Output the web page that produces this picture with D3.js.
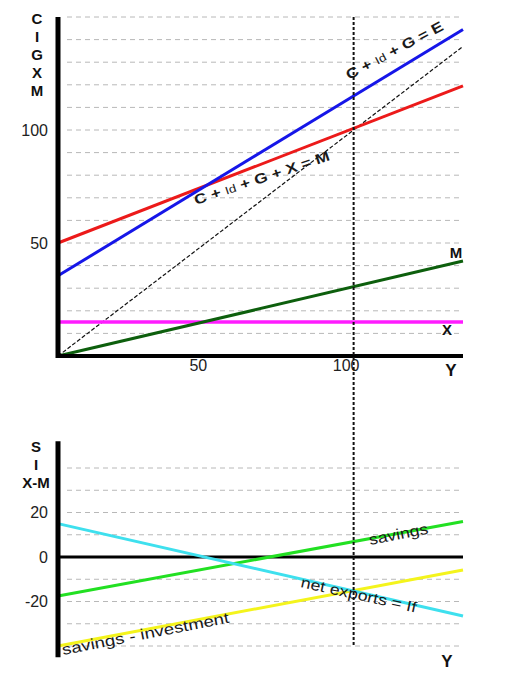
<!DOCTYPE html>
<html>
<head>
<meta charset="utf-8">
<script src="https://cdn.jsdelivr.net/npm/d3@7"></script>
<style>
  html, body { margin: 0; padding: 0; background: #fff; }
  svg { display: block; font-family: "Liberation Sans", Arial, sans-serif; }
</style>
</head>
<body>
<svg id="chart" width="527" height="673"></svg>
<script>
// national income (Y) at the two ends of every straight line
const incomeY = [0, 137];

// top panel: C, I, G, X, M
const expenditureE = [35.5, 144.5];   // C + Id + G = E
const aggDemand = [50, 119.5];        // C + Id + G + X - M
const importsM = [0, 42];
const exportsX = [15, 15];
const fortyFive = [0, 137];

// bottom panel: S, I, X-M
const savings = [-17.5, 16];
const netExports = [15, -26.5];
const savingsMinusInv = [-40, -5.8];

const topTicks = [50, 100];
const bottomTicks = [-20, 0, 20];
const xTicks = [50, 100];
const topGrid = d3.range(10, 151, 10);
const bottomGrid = [-40, -30, -20, -10, 10, 20, 30, 40];
const equilibriumY = 100;

const svg = d3.select("#chart");

const x = d3.scaleLinear().domain([0, 137]).range([58, 463]);
const yTop = d3.scaleLinear().domain([0, 150]).range([356, 17]);
const yBot = d3.scaleLinear().domain([-40, 40]).range([646, 468]);

const GRID = "#b8b8b8";
const FONT = "Liberation Sans, Arial, sans-serif";

function grid(scale, values) {
  svg.append("g").selectAll("line")
    .data(values)
    .join("line")
    .attr("x1", x(0) + 9).attr("x2", x(137) - 2)
    .attr("y1", d => scale(d)).attr("y2", d => scale(d))
    .attr("stroke", GRID).attr("stroke-width", 1)
    .attr("stroke-dasharray", "5,4");
}

function series(scale, values, color, width, dash) {
  const pts = incomeY.map((v, i) => [v, values[i]]);
  const line = d3.line().x(d => x(d[0])).y(d => scale(d[1]));
  const p = svg.append("path")
    .datum(pts)
    .attr("d", line)
    .attr("fill", "none")
    .attr("stroke", color)
    .attr("stroke-width", width);
  if (dash) p.attr("stroke-dasharray", dash);
}

function stackedTitle(letters, cx, y0, step) {
  svg.append("g").selectAll("text")
    .data(letters)
    .join("text")
    .attr("x", cx).attr("y", (d, i) => y0 + i * step)
    .attr("text-anchor", "middle")
    .attr("font-size", 15).attr("font-weight", "bold")
    .attr("fill", "#111")
    .text(d => d);
}

function slantLabel(px, py, angle, len, parts, size, weight) {
  const t = svg.append("text")
    .attr("transform", `translate(${px},${py}) rotate(${angle})`)
    .attr("font-size", size).attr("font-weight", weight)
    .attr("fill", "#1a1a1a")
    .attr("textLength", len)
    .attr("lengthAdjust", "spacingAndGlyphs");
  parts.forEach(p => {
    const s = t.append("tspan").text(p.t);
    if (p.small) s.attr("font-size", size - 3).attr("font-weight", "normal");
  });
}

function styleTicks(g, dx) {
  g.select(".domain").remove();
  g.selectAll("text").attr("font-size", 16).attr("font-family", FONT)
    .attr("fill", "#222").attr("dx", dx || 0);
}

// ---------- top panel ----------
grid(yTop, topGrid);

series(yTop, fortyFive, "#111", 1.2, "4,2");
series(yTop, exportsX, "#ff1cff", 3.5);
series(yTop, importsM, "#0d5f0d", 3);
series(yTop, aggDemand, "#ec1a1a", 3);
series(yTop, expenditureE, "#1616e8", 3);

// axes
svg.append("line")
  .attr("x1", x(0)).attr("x2", x(0))
  .attr("y1", yTop(150)).attr("y2", yTop(0) + 2)
  .attr("stroke", "#000").attr("stroke-width", 5);
svg.append("line")
  .attr("x1", x(0) - 2).attr("x2", x(137))
  .attr("y1", yTop(0)).attr("y2", yTop(0))
  .attr("stroke", "#000").attr("stroke-width", 4);

svg.append("g")
  .attr("transform", `translate(${x(0)},0)`)
  .call(d3.axisLeft(yTop).tickValues(topTicks).tickFormat(d => String(d)).tickSize(0).tickPadding(10))
  .call(g => styleTicks(g));

svg.append("g")
  .attr("transform", `translate(0,${yTop(0)})`)
  .call(d3.axisBottom(x).tickValues(xTicks).tickFormat(d => String(d)).tickSize(0).tickPadding(4))
  .call(g => styleTicks(g, -8));

stackedTitle(["C", "I", "G", "X", "M"], 37, 24, 18);

svg.append("text").attr("x", 456).attr("y", 258).attr("text-anchor", "middle")
  .attr("font-size", 15).attr("font-weight", "bold").attr("fill", "#111").text("M");
svg.append("text").attr("x", 447).attr("y", 335).attr("text-anchor", "middle")
  .attr("font-size", 15).attr("font-weight", "bold").attr("fill", "#111").text("X");
svg.append("text").attr("x", 451).attr("y", 376).attr("text-anchor", "middle")
  .attr("font-size", 17).attr("font-weight", "bold").attr("fill", "#111").text("Y");

slantLabel(349, 80, -28, 108,
  [{t: "C + "}, {t: "Id", small: true}, {t: " + G = E"}], 14, "bold");
slantLabel(196, 205, -18.5, 142,
  [{t: "C + "}, {t: "Id", small: true}, {t: " + G + X = M"}], 14, "bold");

// ---------- bottom panel ----------
grid(yBot, bottomGrid);

svg.append("line")
  .attr("x1", x(0)).attr("x2", x(137))
  .attr("y1", yBot(0)).attr("y2", yBot(0))
  .attr("stroke", "#000").attr("stroke-width", 3);

series(yBot, savingsMinusInv, "#f4f41c", 3);
series(yBot, savings, "#22e022", 3);
series(yBot, netExports, "#3ee0ee", 3);

svg.append("line")
  .attr("x1", x(0)).attr("x2", x(0))
  .attr("y1", yBot(52)).attr("y2", yBot(-45))
  .attr("stroke", "#000").attr("stroke-width", 5);

svg.append("g")
  .attr("transform", `translate(${x(0)},0)`)
  .call(d3.axisLeft(yBot).tickValues(bottomTicks).tickFormat(d => String(d)).tickSize(0).tickPadding(10))
  .call(g => styleTicks(g));

stackedTitle(["S", "I", "X-M"], 36, 452, 18);

svg.append("text").attr("x", 447).attr("y", 667).attr("text-anchor", "middle")
  .attr("font-size", 17).attr("font-weight", "bold").attr("fill", "#111").text("Y");

slantLabel(370, 545, -11, 60, [{t: "savings"}], 15, "normal");
slantLabel(300, 587, 12.5, 118, [{t: "net exports = If"}], 15, "normal");
slantLabel(63, 655, -11, 170, [{t: "savings - investment"}], 15, "normal");

// equilibrium income marker crossing both panels
svg.append("line")
  .attr("x1", x(equilibriumY)).attr("x2", x(equilibriumY))
  .attr("y1", yTop(150)).attr("y2", yBot(-40))
  .attr("stroke", "#111").attr("stroke-width", 2)
  .attr("stroke-dasharray", "3,2");
</script>
</body>
</html>
